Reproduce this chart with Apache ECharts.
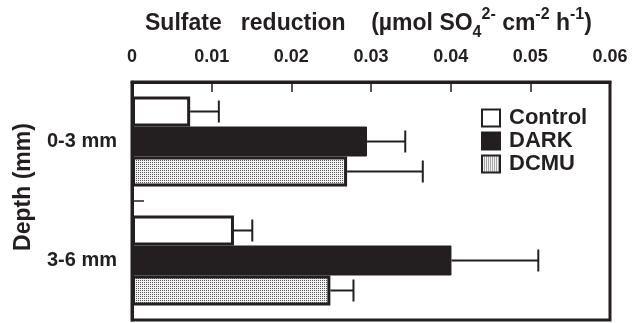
<!DOCTYPE html>
<html>
<head>
<meta charset="utf-8">
<script src="https://cdn.jsdelivr.net/npm/echarts@6/dist/echarts.min.js"></script>
<style>html,body{margin:0;padding:0;background:#fff}#c{width:640px;height:323px}</style>
</head>
<body>
<div id="c"></div>
<script>
// ---- data ----
var depths = ['0-3 mm', '3-6 mm'];
var seriesNames = ['Control', 'DARK', 'DCMU'];
var controlMean = [0.0073, 0.0128];
var controlErr  = [0.0036, 0.0023];
var darkMean    = [0.0295, 0.0401];
var darkErr     = [0.0048, 0.0109];
var dcmuMean    = [0.0270, 0.0249];
var dcmuErr     = [0.0095, 0.0029];
var xTicks = [0, 0.01, 0.02, 0.03, 0.04, 0.05, 0.06];

var INK = '#231f20';
var FONT = '"Liberation Sans", Arial, Helvetica, sans-serif';

// stipple pattern for DCMU
var pc = document.createElement('canvas');
pc.width = 2; pc.height = 2;
var px = pc.getContext('2d');
px.fillStyle = '#f2f2f2'; px.fillRect(0, 0, 2, 2);
px.fillStyle = '#5a5a5a'; px.fillRect(0, 0, 1, 1);
var stipple = { image: pc, repeat: 'repeat' };

var BAR_W = 30;

function errSeries(idx, means, errs) {
  return {
    type: 'custom',
    name: seriesNames[idx] + '_err',
    z: 5,
    data: means.map(function (m, i) { return [m, i, errs[i]]; }),
    encode: { x: 0, y: 1 },
    renderItem: function (params, api) {
      var m = api.value(0), c = api.value(1), e = api.value(2);
      var off = (idx - 1) * BAR_W;
      var p0 = api.coord([m, c]);
      var p1 = api.coord([m + e, c]);
      var y = p0[1] + off;
      var st = { stroke: INK, lineWidth: 2 };
      return {
        type: 'group',
        children: [
          { type: 'line', shape: { x1: p0[0], y1: y, x2: p1[0], y2: y }, style: st },
          { type: 'line', shape: { x1: p1[0], y1: y - 11, x2: p1[0], y2: y + 11 }, style: st }
        ]
      };
    }
  };
}

var chart = echarts.init(document.getElementById('c'), null, { renderer: 'canvas' });
chart.setOption({
  animation: false,
  backgroundColor: '#fff',
  textStyle: { fontFamily: FONT, color: INK },
  grid: { left: 132, right: 30, top: 82, bottom: 3, show: true, borderColor: INK, borderWidth: 3, containLabel: false },
  title: {
    left: 140, top: 2,
    text: '{a|Sulfate   reduction    (µmol SO}{sub|4}{sup|2-}{a| cm}{sup|-2}{a| h}{sup|-1}{a|)}',
    textStyle: {
      rich: {
        a: { fontFamily: FONT, fontWeight: 'bold', fontSize: 23, color: INK, lineHeight: 34, verticalAlign: 'middle' },
        sup: { fontFamily: FONT, fontWeight: 'bold', fontSize: 16, color: INK, lineHeight: 16, verticalAlign: 'top' },
        sub: { fontFamily: FONT, fontWeight: 'bold', fontSize: 16, color: INK, lineHeight: 16, verticalAlign: 'bottom' }
      }
    }
  },
  legend: {
    data: seriesNames,
    orient: 'vertical',
    left: 476, top: 102,
    itemWidth: 18, itemHeight: 17, itemGap: 1,
    icon: 'rect',
    textStyle: { fontFamily: FONT, fontWeight: 'bold', fontSize: 22, color: INK, padding: [0, 0, 0, 4] }
  },
  xAxis: {
    type: 'value', position: 'top', min: 0, max: 0.06, interval: 0.01,
    axisLine: { show: true, lineStyle: { color: INK, width: 3 } },
    axisTick: { show: true, inside: true, length: 10, lineStyle: { color: INK, width: 1.5 } },
    splitLine: { show: false },
    axisLabel: {
      margin: 16, fontFamily: FONT, fontWeight: 'bold', fontSize: 18, color: INK,
      formatter: function (v) {
        for (var i = 0; i < xTicks.length; i++) if (Math.abs(xTicks[i] - v) < 1e-9) return String(xTicks[i]);
        return '';
      }
    }
  },
  yAxis: {
    type: 'category', data: depths, inverse: true,
    axisLine: { show: true, lineStyle: { color: INK, width: 3 } },
    axisTick: { show: true, inside: true, length: 12, lineStyle: { color: INK, width: 1.5 } },
    axisLabel: { margin: 15, fontFamily: FONT, fontWeight: 'bold', fontSize: 20, color: INK }
  },
  graphic: [{
    type: 'text', x: 24, y: 187, rotation: Math.PI / 2,
    style: { text: 'Depth (mm)', fontFamily: FONT, fontWeight: 'bold', fontSize: 23, fill: INK, textAlign: 'center', textVerticalAlign: 'middle' }
  }],
  series: [
    { name: 'Control', type: 'bar', data: controlMean, barWidth: BAR_W, barGap: '0%',
      itemStyle: { color: '#fff', borderColor: INK, borderWidth: 3 } },
    { name: 'DARK', type: 'bar', data: darkMean, barWidth: BAR_W, barGap: '0%',
      itemStyle: { color: INK, borderColor: INK, borderWidth: 1 } },
    { name: 'DCMU', type: 'bar', data: dcmuMean, barWidth: BAR_W, barGap: '0%',
      itemStyle: { color: stipple, borderColor: INK, borderWidth: 3 } },
    errSeries(0, controlMean, controlErr),
    errSeries(1, darkMean, darkErr),
    errSeries(2, dcmuMean, dcmuErr)
  ]
});
</script>
</body>
</html>
